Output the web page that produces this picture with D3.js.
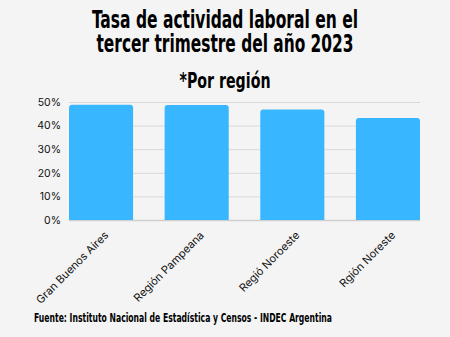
<!DOCTYPE html>
<html><head><meta charset="utf-8">
<script src="https://cdn.jsdelivr.net/npm/d3@7"></script>
<style>
html,body{margin:0;padding:0;background:#f4f4f4;}
svg{display:block;}
</style></head>
<body>
<script>
const categories = ["Gran Buenos Aires", "Región Pampeana", "Regió Noroeste", "Rgión Noreste"];
const values = [48.8, 48.7, 46.8, 43.2];
const yTicks = [0, 10, 20, 30, 40, 50];
const titleLines = ["Tasa de actividad laboral en el", "tercer trimestre del año 2023"];
const subtitle = "*Por región";
const source = "Fuente: Instituto Nacional de Estadística y Censos - INDEC Argentina";

const W = 450, H = 337;
const m = {left: 69, right: 30, top: 102, bottom: 117};
const svg = d3.select("body").append("svg").attr("width", W).attr("height", H);
svg.append("rect").attr("width", W).attr("height", H).attr("fill", "#f4f4f4");

const condensed = "'Liberation Sans Narrow','DejaVu Sans Condensed','Roboto Condensed',sans-serif";
const titleY = [28, 52];
titleLines.forEach((t, i) => {
  svg.append("text").attr("x", 225).attr("y", titleY[i])
    .attr("text-anchor", "middle").attr("font-family", condensed)
    .attr("font-weight", "bold").attr("font-size", 25).attr("fill", "#000")
    .attr("textLength", i === 0 ? 266 : 257).attr("lengthAdjust", "spacingAndGlyphs")
    .text(t);
});
svg.append("text").attr("x", 225).attr("y", 87.5).attr("text-anchor", "middle")
  .attr("font-family", condensed).attr("font-weight", "bold").attr("font-size", 22)
  .attr("textLength", 91).attr("lengthAdjust", "spacingAndGlyphs").text(subtitle);

const x = d3.scaleBand().domain(categories).range([m.left, W - m.right]).paddingInner(0.33).paddingOuter(0);
const y = d3.scaleLinear().domain([0, 50]).range([H - m.bottom, m.top]);

const g = svg.append("g");
// grid
g.selectAll("line.grid").data(yTicks).join("line").attr("class", "grid")
  .attr("x1", m.left).attr("x2", W - m.right)
  .attr("y1", d => y(d) + 0.5).attr("y2", d => y(d) + 0.5)
  .attr("stroke", d => d === 0 ? "#cfcfcf" : "#d9d9d9").attr("stroke-width", d => d === 0 ? 1.5 : 1);

// y labels
const yAxis = d3.axisLeft(y).tickValues(yTicks).tickFormat(d => d + "%").tickSize(0).tickPadding(8);
const ya = svg.append("g").attr("transform", `translate(${m.left},0)`).call(yAxis);
ya.select(".domain").remove();
ya.selectAll("text").attr("font-family", "Inter, 'Open Sans', sans-serif").attr("font-size", 10.5).attr("fill", "#111");

// bars with rounded top corners
const r = 3;
g.selectAll("path.bar").data(values).join("path").attr("class", "bar")
  .attr("fill", "#38b6ff")
  .attr("d", (d, i) => {
    const x0 = x(categories[i]), w = x.bandwidth(), y0 = y(0), y1 = y(d);
    return `M${x0},${y0}V${y1 + r}Q${x0},${y1} ${x0 + r},${y1}H${x0 + w - r}Q${x0 + w},${y1} ${x0 + w},${y1 + r}V${y0}Z`;
  });

// x labels
svg.selectAll("text.xl").data(categories).join("text").attr("class", "xl")
  .attr("transform", d => `translate(${x(d) + x.bandwidth() / 2 + 8},${y(0) + 16}) rotate(-45)`)
  .attr("text-anchor", "end").attr("font-family", "Inter, 'Open Sans', sans-serif")
  .attr("font-size", 11).attr("fill", "#111").text(d => d);

svg.append("text").attr("x", 34).attr("y", 321.5).attr("font-family", condensed)
  .attr("font-weight", "bold").attr("font-size", 13).attr("fill", "#000")
  .attr("textLength", 298).attr("lengthAdjust", "spacingAndGlyphs").text(source);
</script>
</body></html>
